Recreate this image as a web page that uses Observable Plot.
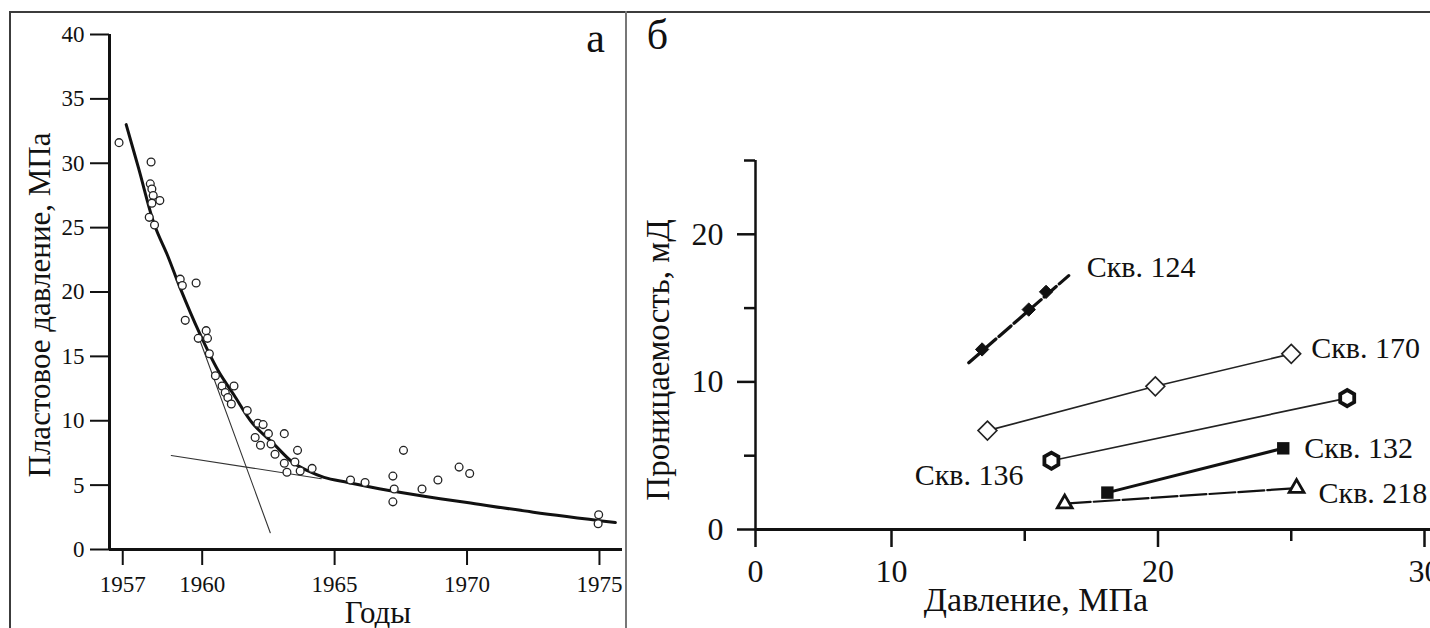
<!DOCTYPE html>
<html><head><meta charset="utf-8">
<script src="https://cdn.jsdelivr.net/npm/d3@7"></script>
<script src="https://cdn.jsdelivr.net/npm/@observablehq/plot@0.6"></script>
<style>
html,body{margin:0;padding:0;background:#fff;}
body{width:1430px;height:628px;overflow:hidden;position:relative;font-family:"Liberation Serif",serif;}
.panel{position:absolute;top:0}
.ln{position:absolute;background:#3c3c3c}
</style></head><body>
<div id="pa" class="panel" style="left:0px"></div>
<div id="pb" class="panel" style="left:627px"></div>
<div class="ln" style="left:9px;top:11px;width:1421px;height:2px"></div>
<div class="ln" style="left:9px;top:11px;width:2px;height:617px"></div>
<div class="ln" style="left:625px;top:11px;width:2px;height:617px;background:#777"></div>
<script>
// ---------- Panel а: reservoir pressure vs years ----------
const obsYears = [1956.86,1958.07,1958.04,1958.1,1958.15,1958.1,1958.4,1958.0,1958.2,1959.17,1959.25,1959.77,1959.36,1959.85,1960.15,1960.2,1960.27,1960.5,1960.75,1960.87,1961.2,1960.97,1961.1,1961.7,1962.1,1962.3,1962.0,1962.2,1962.5,1962.6,1963.1,1962.75,1963.1,1963.2,1963.5,1963.6,1963.7,1964.15,1965.6,1966.15,1967.2,1967.25,1967.2,1967.6,1968.3,1968.9,1969.7,1970.1,1974.97,1974.95];
const obsPressure = [31.6,30.1,28.4,28.0,27.5,26.9,27.1,25.8,25.2,21.0,20.5,20.7,17.8,16.4,17.0,16.4,15.2,13.5,12.7,12.2,12.7,11.8,11.3,10.8,9.8,9.7,8.7,8.1,9.0,8.2,9.0,7.4,6.7,6.0,6.8,7.7,6.1,6.3,5.4,5.2,5.7,4.7,3.7,7.7,4.7,5.4,6.4,5.9,2.7,2.0];
const trendYears = [1957.13,1957.6,1958.2,1958.7,1959.17,1959.9,1960.6,1961.2,1961.9,1962.7,1963.4,1964.0,1964.6,1965.5,1967.0,1968.5,1970.0,1972.5,1975.6];
const trendPressure = [33.0,29.6,25.2,22.8,20.3,16.8,13.9,12.0,9.8,8.2,6.8,6.1,5.6,5.2,4.6,4.1,3.65,2.9,2.1];
const steepYears = [1959.85,1962.57];
const steepPressure = [16.6,1.3];
const flatYears = [1958.83,1964.5];
const flatPressure = [7.3,5.5];
const yearTicks = [1957,1960,1965,1970,1975];
const pressureTicks = [0,5,10,15,20,25,30,35,40];
const yearDomain = [1956.5,1975.87];
const pressureDomain = [0,40];
const titleA = "Пластовое давление, МПа";
const xTitleA = "Годы";
const panelA = "а";

// ---------- Panel б: permeability vs pressure ----------
const wells = ["Скв. 124","Скв. 170","Скв. 136","Скв. 132","Скв. 218"];
const wellPressure = [[13.4,15.15,15.8],[13.6,19.9,25.0],[16.0,27.1],[18.1,24.7],[16.5,25.2]];
const wellPerm = [[12.2,14.9,16.1],[6.7,9.7,11.9],[4.66,8.9],[2.5,5.5],[1.75,2.8]];
const well124LinePressure = [12.9,16.65];
const well124LinePerm = [11.3,17.2];
const pressTicksMajor = [0,10,20,30];
const pressTicksMinor = [15,25];
const permTicksMajor = [0,10,20];
const permTicksMinor = [5,15,25];
const titleBy = "Проницаемость, мД";
const titleBx = "Давление, МПа";
const panelB = "б";

const font = "Liberation Serif";
const zip = (xs, ys) => xs.map((x, i) => ({x, y: ys[i]}));

// ---- build panel а
const obs = zip(obsYears, obsPressure);
const trend = zip(trendYears, trendPressure);
const steep = zip(steepYears, steepPressure);
const flat = zip(flatYears, flatPressure);

const chartA = Plot.plot({
  width: 625, height: 628,
  marginLeft: 109, marginRight: 3, marginTop: 34, marginBottom: 79,
  style: {fontFamily: font, color: "#111", background: "transparent", overflow: "visible"},
  x: {domain: yearDomain},
  y: {domain: pressureDomain},
  marks: [
    Plot.line(steep, {x: "x", y: "y", stroke: "#333", strokeWidth: 1.1}),
    Plot.line(flat, {x: "x", y: "y", stroke: "#333", strokeWidth: 1.1}),
    Plot.line(trend, {x: "x", y: "y", stroke: "#111", strokeWidth: 3, curve: "catmull-rom"}),
    Plot.dot(obs, {x: "x", y: "y", r: 3.9, stroke: "#222", strokeWidth: 1.3, fill: "white"}),
    Plot.ruleX([yearDomain[0]], {y1: pressureDomain[0], y2: pressureDomain[1], stroke: "#111", strokeWidth: 3}),
    Plot.ruleY([0], {stroke: "#111", strokeWidth: 3}),
    Plot.axisY(pressureTicks, {anchor: "left", tickSize: 19, tickPadding: 6, fontSize: 23, strokeWidth: 2, label: null}),
    Plot.axisX(yearTicks, {anchor: "bottom", tickSize: 16, tickPadding: 10, fontSize: 23, strokeWidth: 2, tickFormat: d => String(d), label: null}),
    Plot.text([xTitleA], {frameAnchor: "bottom", dx: 12, dy: 64, fontSize: 31, lineAnchor: "middle", fill: "#111"}),
    Plot.text([titleA], {frameAnchor: "left", dx: -69, dy: 13, rotate: -90, fontSize: 31, textAnchor: "middle", lineAnchor: "middle", fill: "#111"}),
    Plot.text([panelA], {frameAnchor: "top-right", dx: -27, dy: 4, fontSize: 42, textAnchor: "middle", lineAnchor: "middle", fill: "#111"})
  ]
});
document.getElementById("pa").append(chartA);

// ---- build panel б
const pts = wells.map((w, i) => zip(wellPressure[i], wellPerm[i]));
const line124 = zip(well124LinePressure, well124LinePerm);
const last = a => [a[a.length - 1]];

const chartB = Plot.plot({
  width: 803, height: 628,
  marginLeft: 128, marginRight: 0, marginTop: 160, marginBottom: 99,
  style: {fontFamily: font, color: "#111", background: "transparent", overflow: "visible"},
  x: {type: "linear", domain: [0, 10, 30], range: [128, 264, 797]},
  y: {domain: [0, 25]},
  marks: [
    // Скв. 124
    Plot.line(line124, {x: "x", y: "y", stroke: "#111", strokeWidth: 3.2, strokeDasharray: "16,4"}),
    Plot.dot(pts[0], {x: "x", y: "y", symbol: "diamond2", r: 6, fill: "#111", stroke: "#111", strokeWidth: 1}),
    // Скв. 170
    Plot.line(pts[1], {x: "x", y: "y", stroke: "#222", strokeWidth: 1.6}),
    Plot.dot(pts[1], {x: "x", y: "y", symbol: "diamond2", r: 8.5, fill: "white", stroke: "#222", strokeWidth: 1.6}),
    // Скв. 136
    Plot.line(pts[2], {x: "x", y: "y", stroke: "#222", strokeWidth: 1.7}),
    Plot.dot(pts[2], {x: "x", y: "y", symbol: "hexagon", r: 7, fill: "white", stroke: "#111", strokeWidth: 3.8}),
    // Скв. 132
    Plot.line(pts[3], {x: "x", y: "y", stroke: "#111", strokeWidth: 3}),
    Plot.dot(pts[3], {x: "x", y: "y", symbol: "square", r: 7, fill: "#111", stroke: "none"}),
    // Скв. 218
    Plot.line(pts[4], {x: "x", y: "y", stroke: "#111", strokeWidth: 2.2, strokeDasharray: "26,3"}),
    Plot.dot(pts[4], {x: "x", y: "y", symbol: "triangle", r: 5.5, fill: "white", stroke: "#111", strokeWidth: 2.8}),
    // labels
    Plot.text(last(line124), {x: "x", y: "y", text: () => wells[0], dx: 18, dy: -8, textAnchor: "start", fontSize: 30, fill: "#111"}),
    Plot.text(last(pts[1]), {x: "x", y: "y", text: () => wells[1], dx: 20, dy: -5, textAnchor: "start", fontSize: 30, fill: "#111"}),
    Plot.text([pts[2][0]], {x: "x", y: "y", text: () => wells[2], dx: -28, dy: 15, textAnchor: "end", fontSize: 30, fill: "#111"}),
    Plot.text(last(pts[3]), {x: "x", y: "y", text: () => wells[3], dx: 21, dy: 0, textAnchor: "start", fontSize: 30, fill: "#111"}),
    Plot.text(last(pts[4]), {x: "x", y: "y", text: () => wells[4], dx: 22, dy: 5, textAnchor: "start", fontSize: 30, fill: "#111"}),
    // axes
    Plot.ruleX([0], {y1: 0, y2: 25, stroke: "#111", strokeWidth: 2.5}),
    Plot.ruleY([0], {stroke: "#111", strokeWidth: 3}),
    Plot.axisY(permTicksMajor, {anchor: "left", tickSize: 18, tickPadding: 14, fontSize: 32, strokeWidth: 2.5, label: null}),
    Plot.axisY(permTicksMinor, {anchor: "left", tickSize: 11, strokeWidth: 2.5, tickFormat: () => "", label: null}),
    Plot.axisX(pressTicksMajor, {anchor: "bottom", tickSize: 18, tickPadding: 12, fontSize: 32, strokeWidth: 2.5, label: null}),
    Plot.axisX(pressTicksMinor, {anchor: "bottom", tickSize: 12, strokeWidth: 2.5, tickFormat: () => "", label: null}),
    Plot.text([titleBx], {frameAnchor: "bottom", dx: -57, dy: 71, fontSize: 34, lineAnchor: "middle", fill: "#111"}),
    Plot.text([titleBy], {frameAnchor: "left", dx: -97, dy: 15, rotate: -90, fontSize: 33, textAnchor: "middle", lineAnchor: "middle", fill: "#111"}),
    Plot.text([panelB], {frameAnchor: "top-left", dx: -98, dy: -125, fontSize: 42, textAnchor: "middle", lineAnchor: "middle", fill: "#111"})
  ]
});
document.getElementById("pb").append(chartB);
</script>
</body></html>
